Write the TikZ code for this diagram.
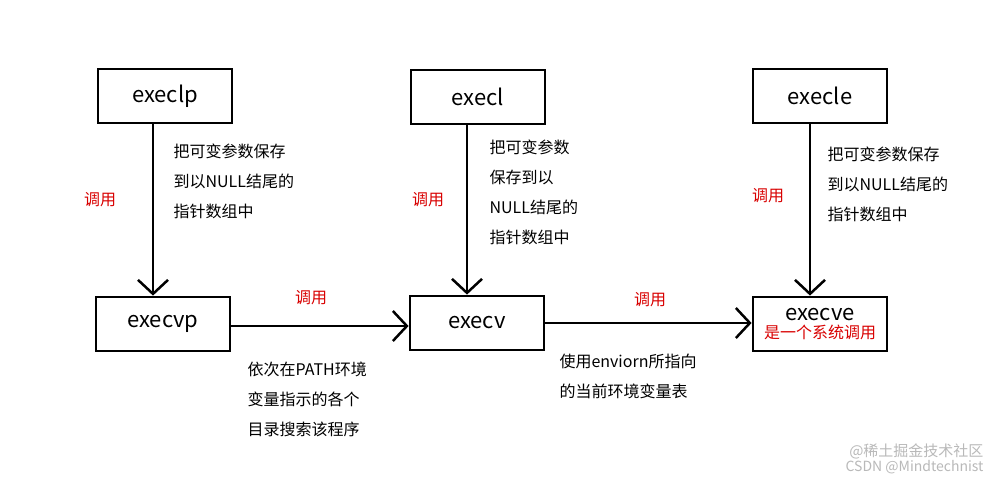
\documentclass[tikz,border=0pt]{standalone}
\usepackage{fontspec}
\setmainfont{Noto Sans CJK SC}
\usetikzlibrary{arrows.meta}
\begin{document}
\begin{tikzpicture}[x=1pt,y=-1pt,
  box/.style={draw,line width=2.8pt,minimum width=134pt,minimum height=54pt,font=\fontsize{22}{24}\selectfont},
  arr/.style={line width=2.8pt,-{Straight Barb[length=14pt,width=30pt,line width=2.5pt]}},
  note/.style={anchor=north west,align=left,font=\fontsize{16}{30}\selectfont},
  red/.style={text=red!85!black,font=\fontsize{16}{18}\selectfont}]
\useasboundingbox[fill=white] (0,0) rectangle (997,483);
\node[box] (lp) at (165,96) {execlp};
\node[box] (l) at (478,97) {execl};
\node[box] (le) at (820,96) {execle};
\node[box] (vp) at (163,324) {execvp};
\node[box] (v) at (477,323) {execv};
\node[box,align=center,font=\fontsize{22}{20}\selectfont] (ve) at (820,324) {execve\\[-2pt]{\color{red!85!black}\fontsize{16}{16}\selectfont 是一个系统调用}};
\draw[arr] (lp.south -| 153,0) -- (vp.north -| 153,0);
\draw[arr] (l.south -| 467,0) -- (v.north -| 467,0);
\draw[arr] (le.south -| 810,0) -- (ve.north -| 810,0);
\draw[arr] (vp.east) ++(0,2) -- (v.west |- 0,326);
\draw[arr] (v.east) -- (ve.west |- 0,323);
\node[note] (t1) at (170,140) {把可变参数保存\\到以NULL结尾的\\指针数组中};
\node[note] (t2) at (486,136) {把可变参数\\保存到以\\NULL结尾的\\指针数组中};
\node[note] (t3) at (824,143) {把可变参数保存\\到以NULL结尾的\\指针数组中};
\node[note] (t4) at (244,358) {依次在PATH环境\\变量指示的各个\\目录搜索该程序};
\node[note] (t5) at (556,350) {使用enviorn所指向\\的当前环境变量表};
\node[red] (r1) at (100,200) {调用};
\node[red] (r2) at (428,200) {调用};
\node[red] (r3) at (768,196) {调用};
\node[red] (r4) at (311,298) {调用};
\node[red] (r5) at (650,300) {调用};
\node[text=gray!55,anchor=east,font=\fontsize{15}{16}\selectfont] (w1) at (987,451) {@稀土掘金技术社区};
\node[text=gray!55,anchor=east,font=\fontsize{14}{15}\selectfont] (w2) at (987,467) {CSDN @Mindtechnist};
\end{tikzpicture}
\end{document}
